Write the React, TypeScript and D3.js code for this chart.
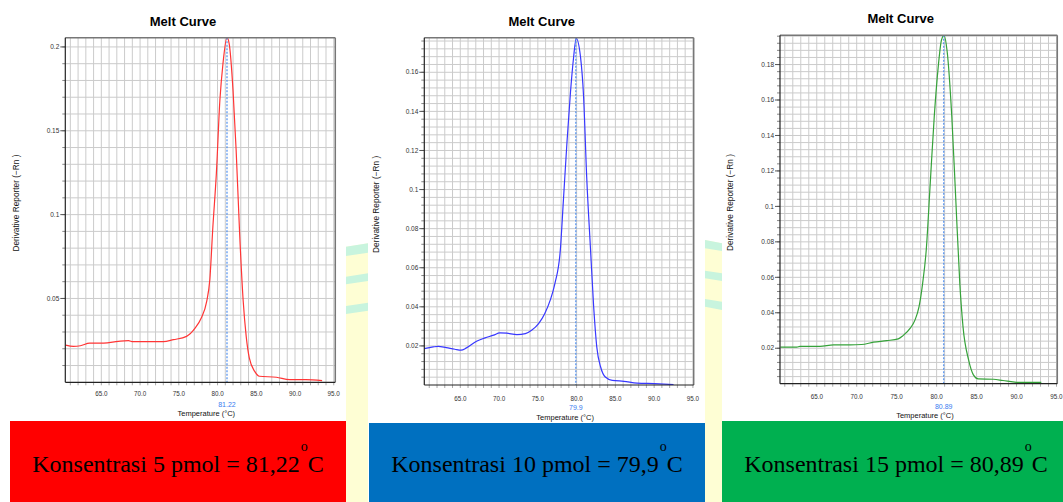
import React from 'react';
import * as d3 from 'd3';

// ---------- data ----------
const xTickValues = [65, 70, 75, 80, 85, 90, 95];
const xTickLabels = ['65.0', '70.0', '75.0', '80.0', '85.0', '90.0', '95.0'];

const redYTicks = [0.05, 0.1, 0.15, 0.2];
const redYTickLabels = ['0.05', '0.1', '0.15', '0.2'];
const blueYTicks = [0.02, 0.04, 0.06, 0.08, 0.1, 0.12, 0.14, 0.16];
const blueYTickLabels = ['0.02', '0.04', '0.06', '0.08', '0.1', '0.12', '0.14', '0.16'];
const greenYTicks = [0.02, 0.04, 0.06, 0.08, 0.1, 0.12, 0.14, 0.16, 0.18];
const greenYTickLabels = ['0.02', '0.04', '0.06', '0.08', '0.1', '0.12', '0.14', '0.16', '0.18'];

const redTemps = [60.4, 61.4, 62.3, 63.5, 65.3, 67.2, 68.5, 69.1, 71.3, 73.0, 74.3, 76.0, 77.1, 77.9, 78.6, 79.0, 79.4, 79.85, 80.3, 80.7, 81.22, 81.5, 82.0, 82.4, 82.85, 83.3, 83.7, 84.1, 84.8, 85.4, 87.6, 89.3, 91.4, 93.5];
const redValues = [0.0222, 0.0214, 0.0218, 0.0234, 0.0234, 0.0244, 0.0248, 0.0242, 0.0242, 0.0242, 0.0254, 0.0274, 0.0323, 0.0383, 0.0482, 0.061, 0.0929, 0.1246, 0.168, 0.19, 0.2055, 0.202, 0.174, 0.1385, 0.0889, 0.0492, 0.0274, 0.0145, 0.0065, 0.0036, 0.003, 0.0016, 0.0016, 0.001];

const blueTemps = [60.35, 61.5, 62.15, 63.2, 64.3, 65.1, 65.8, 67.1, 68.2, 69.3, 70.1, 71.0, 72.3, 73.4, 74.2, 75.1, 75.9, 76.6, 77.2, 77.9, 78.3, 78.75, 79.2, 79.6, 79.95, 80.5, 80.9, 81.3, 81.8, 82.2, 82.6, 83.1, 83.7, 84.6, 86.1, 87.8, 90.0, 92.5];
const blueValues = [0.0186, 0.0195, 0.0198, 0.0191, 0.0183, 0.0178, 0.019, 0.0224, 0.0241, 0.0255, 0.0267, 0.0265, 0.0258, 0.0263, 0.028, 0.0314, 0.0366, 0.0434, 0.0519, 0.069, 0.0946, 0.1237, 0.1493, 0.1672, 0.1774, 0.168, 0.1476, 0.1066, 0.069, 0.04, 0.0195, 0.0092, 0.0041, 0.0024, 0.0019, 0.001, 0.0007, 0.0002];

const greenTemps = [60.45, 62.5, 62.9, 65.4, 67.1, 69.2, 70.6, 72.1, 73.75, 75.2, 75.8, 76.7, 77.3, 77.8, 78.25, 78.7, 79.2, 79.7, 80.2, 80.6, 80.92, 81.3, 81.9, 82.4, 82.9, 83.3, 84.0, 84.6, 85.2, 87.1, 88.3, 90.0, 90.8, 93.1];
const greenValues = [0.0206, 0.0206, 0.0211, 0.0211, 0.0219, 0.0219, 0.0221, 0.0234, 0.0243, 0.0253, 0.0271, 0.0313, 0.036, 0.0435, 0.0566, 0.0754, 0.113, 0.1505, 0.1787, 0.1937, 0.1965, 0.188, 0.1505, 0.1036, 0.0566, 0.0322, 0.0134, 0.005, 0.0027, 0.0025, 0.0018, 0.0008, 0.0007, 0.0007];

const peakTemps = [81.22, 79.9, 80.89];
const peakLabels = ['81.22', '79.9', '80.89'];
const concentrations = ['5', '10', '15'];
const meltLabels = ['81,22', '79,9', '80,89'];

const SANS = '"Liberation Sans", Arial, sans-serif';
const SERIF = '"Liberation Serif", "Times New Roman", serif';

type PanelProps = {
  x0: number; x1: number; y0: number; y1: number;
  xDomain: [number, number]; yMax: number; gridStep: number;
  yTicks: number[]; yTickLabels: string[];
  temps: number[]; values: number[]; color: string;
  peak: number; peakLabel: string;
  titleX: number; titleY: number; yTitleX: number;
  xLabelY: number; peakLabelY: number; xTitleY: number;
};

function Panel(p: PanelProps) {
  const x = d3.scaleLinear().domain(p.xDomain).range([p.x0, p.x1]);
  const y = d3.scaleLinear().domain([0, p.yMax]).range([p.y1, p.y0]);
  const pts = p.temps.map((t, i) => [t, p.values[i]] as [number, number]);
  const line = d3.line<[number, number]>().x(d => x(d[0])).y(d => y(d[1])).curve(d3.curveMonotoneX);
  const vGrid = d3.range(Math.ceil(p.xDomain[0]), Math.floor(p.xDomain[1]) + 1);
  const nH = Math.floor(p.yMax / p.gridStep + 1e-6);
  const hGrid = d3.range(1, nH + 1).map(i => i * p.gridStep);
  const clipId = 'clip' + Math.round(p.x0);
  return (
    <g>
      <defs>
        <clipPath id={clipId}>
          <rect x={p.x0} y={p.y0} width={p.x1 - p.x0} height={p.y1 - p.y0} />
        </clipPath>
      </defs>
      <text x={p.titleX} y={p.titleY} textAnchor="middle" fontFamily={SANS} fontWeight="bold" fontSize={13} fill="#000">Melt Curve</text>
      <rect x={p.x0} y={p.y0} width={p.x1 - p.x0} height={p.y1 - p.y0} fill="#fff" />
      {vGrid.map(v => (
        <line key={'v' + v} x1={x(v)} x2={x(v)} y1={p.y0} y2={p.y1} stroke="#cbcbcb" strokeWidth={1} />
      ))}
      {hGrid.map(v => (
        <line key={'h' + v} x1={p.x0} x2={p.x1} y1={y(v)} y2={y(v)} stroke="#cbcbcb" strokeWidth={1} />
      ))}
      {/* ticks */}
      {hGrid.map(v => (
        <line key={'ht' + v} x1={p.x0 - 3} x2={p.x0} y1={y(v)} y2={y(v)} stroke="#888" strokeWidth={1} />
      ))}
      {p.yTicks.map(v => (
        <line key={'yt' + v} x1={p.x0 - 5} x2={p.x0} y1={y(v)} y2={y(v)} stroke="#555" strokeWidth={1} />
      ))}
      {vGrid.map(v => (
        <line key={'vt' + v} x1={x(v)} x2={x(v)} y1={p.y1} y2={p.y1 + 3} stroke="#aaa" strokeWidth={1} />
      ))}
      <path d={line(pts) || ''} fill="none" stroke={p.color} strokeWidth={1.2} clipPath={`url(#${clipId})`} />
      <line x1={x(p.peak)} x2={x(p.peak)} y1={p.y0} y2={p.y1} stroke="#4f8ff0" strokeWidth={1.2} strokeDasharray="2,1.5" />
      {/* frame */}
      <line x1={p.x0} x2={p.x1} y1={p.y0} y2={p.y0} stroke="#777" strokeWidth={1.5} />
      <line x1={p.x1} x2={p.x1} y1={p.y0} y2={p.y1} stroke="#777" strokeWidth={1.5} />
      <line x1={p.x0} x2={p.x0} y1={p.y0} y2={p.y1} stroke="#222" strokeWidth={1.2} />
      <line x1={p.x0} x2={p.x1} y1={p.y1} y2={p.y1} stroke="#222" strokeWidth={1.2} />
      {p.yTicks.map((v, i) => (
        <text key={'yl' + v} x={p.x0 - 6} y={y(v) + 2.2} textAnchor="end" fontFamily={SANS} fontSize={6.5} fill="#333">{p.yTickLabels[i]}</text>
      ))}
      {xTickValues.map((v, i) => (
        <text key={'xl' + v} x={x(v)} y={p.xLabelY} textAnchor="middle" fontFamily={SANS} fontSize={6.3} fill="#333">{xTickLabels[i]}</text>
      ))}
      <text x={x(p.peak)} y={p.peakLabelY} textAnchor="middle" fontFamily={SANS} fontSize={7} fill="#3a7cf0">{p.peakLabel}</text>
      <text x={(p.x0 + p.x1) / 2 + (x(80) - (p.x0 + p.x1) / 2) * 0.35} y={p.xTitleY} textAnchor="middle" fontFamily={SANS} fontSize={7.5} fill="#111">Temperature (°C)</text>
      <text transform={`translate(${p.yTitleX},${(p.y0 + p.y1) / 2 - 7}) rotate(-90)`} textAnchor="middle" fontFamily={SANS} fontSize={8.3} fill="#111">Derivative Reporter (−Rn )</text>
    </g>
  );
}

function Box({ x, y, w, h, fill, cx, conc, melt }: { x: number; y: number; w: number; h: number; fill: string; cx: number; conc: string; melt: string }) {
  return (
    <g>
      <rect x={x} y={y} width={w} height={h} fill={fill} />
      <text x={cx} y={472} textAnchor="middle" fontFamily={SERIF} fontSize={24} fill="#000">
        {`Konsentrasi ${conc} pmol = ${melt}`}
        <tspan fontSize={14} dy={-21} dx={1}>o</tspan>
        <tspan dy={21} dx={0}>C</tspan>
      </text>
    </g>
  );
}

export default function App() {
  const yellow = '#fefed4';
  const mint = '#c8f4de';
  return (
    <svg width={1063} height={502} style={{ position: 'absolute', left: 0, top: 0, background: '#fff' }}>
      <rect x={0} y={0} width={1063} height={502} fill="#fff" />
      {/* decorative background stripes */}
      <polygon points="346,246.7 368,243.3 368,502 346,502" fill={yellow} />
      <polygon points="346,246.7 368,243.3 368,252.7 346,256" fill={mint} />
      <polygon points="346,276.7 368,273.3 368,281 346,284.3" fill={mint} />
      <polygon points="346,306 368,302.7 368,310.7 346,314" fill={mint} />
      <polygon points="705,240 722,243.3 722,502 705,502" fill={yellow} />
      <polygon points="705,240 722,243.3 722,251 705,248.3" fill={mint} />
      <polygon points="705,270.7 722,273.3 722,281 705,278.3" fill={mint} />
      <polygon points="705,299 722,301.7 722,310 705,306.7" fill={mint} />

      <Panel x0={65.3} x1={335.3} y0={37.7} y1={382.3} xDomain={[60.35, 95.2]} yMax={0.2055} gridStep={0.01}
        yTicks={redYTicks} yTickLabels={redYTickLabels} temps={redTemps} values={redValues} color="#ff3535"
        peak={peakTemps[0]} peakLabel={peakLabels[0]} titleX={183} titleY={26} yTitleX={19}
        xLabelY={396} peakLabelY={406.5} xTitleY={416} />
      <Panel x0={424.3} x1={693.7} y0={37.7} y1={385} xDomain={[60.36, 95.1]} yMax={0.1777} gridStep={0.004}
        yTicks={blueYTicks} yTickLabels={blueYTickLabels} temps={blueTemps} values={blueValues} color="#3838ff"
        peak={peakTemps[1]} peakLabel={peakLabels[1]} titleX={541.7} titleY={26} yTitleX={379}
        xLabelY={400.5} peakLabelY={409.5} xTitleY={419.5} />
      <Panel x0={780} x1={1057.3} y0={35.3} y1={383.7} xDomain={[60.4, 95.1]} yMax={0.1965} gridStep={0.004}
        yTicks={greenYTicks} yTickLabels={greenYTickLabels} temps={greenTemps} values={greenValues} color="#36a23a"
        peak={peakTemps[2]} peakLabel={peakLabels[2]} titleX={900.7} titleY={23} yTitleX={733}
        xLabelY={399} peakLabelY={408.5} xTitleY={418} />

      <Box x={10} y={421} w={336} h={81} fill="#ff0000" cx={178} conc={concentrations[0]} melt={meltLabels[0]} />
      <Box x={369} y={423} w={336} h={79} fill="#0070c0" cx={537} conc={concentrations[1]} melt={meltLabels[1]} />
      <Box x={722} y={421} w={341} h={81} fill="#00b050" cx={896} conc={concentrations[2]} melt={meltLabels[2]} />
    </svg>
  );
}
